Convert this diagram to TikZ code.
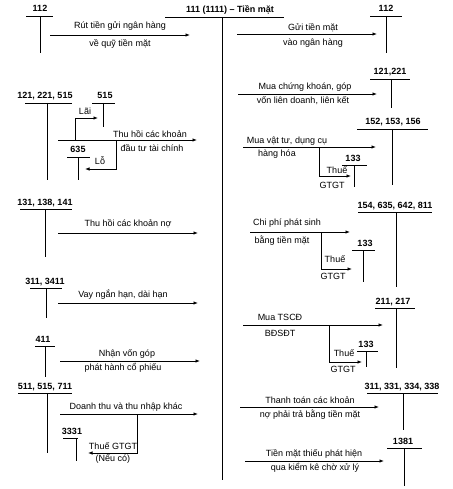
\documentclass[tikz,border=0pt]{standalone}
\usepackage{fontspec}
\setmainfont{Liberation Sans}
\usetikzlibrary{arrows.meta}

\tikzset{
  acct/.style={font=\fontsize{9}{10}\selectfont\bfseries, inner sep=0pt},
  lbl/.style={font=\fontsize{9}{10}\selectfont, inner sep=0pt},
  flow/.style={-{Latex[length=4.5pt,width=3.5pt]}, line width=0.8pt},
  tline/.style={line width=0.8pt}
}

\begin{document}
\begin{tikzpicture}[x=1pt, y=-1pt]
    \useasboundingbox (0,0) rectangle (452,489);
    \foreach \name/\lx/\ly/\xa/\xb/\vx/\vy/\txt in {
        a112/40/16/26/53/40/53/112,
        a111/230/17/165/284/222/480/{111 (1111) -- Tiền mặt},
        b112/386/16/370/402/386/53/112,
        a121/390/79/370/410/391/108/{121,221},
        b121/45/103/25/72/47/180/{121, 221, 515},
        a515/105/103/92/115/103/127/515,
        a635/78/157/67/90/78/180/635,
        a152/393/129/357/428/392/185/{152, 153, 156},
        a133/353/165/342/367/354/187/133,
        a131/45/209/20/72/45/257/{131, 138, 141},
        a154/395/212/358/432/396/287/{154, 635, 642, 811},
        b133/365/250/352/375/363/282/133,
        a311/45/288/30/62/46/318/{311, 3411},
        a411/43/346/35/55/45/377/411,
        a211/393/308/375/415/396/368/{211, 217},
        c133/366/351/357/378/366/367/133,
        a511/45/393/18/72/47/453/{511, 515, 711},
        a3331/72/438/63/78/76/461/3331,
        b311/402/393/367/438/403/430/{311, 331, 334, 338},
        a1381/403/448/387/422/404/486/1381} {
      \node[acct, anchor=base] (t\name) at (\lx,\ly-4) {\txt};
      \draw[tline] (\xa,\ly) -- (\xb,\ly) (\vx,\ly) -- (\vx,\vy);
    }

    \draw[flow] (50,35) coordinate (rut) -- (190,35) coordinate (rutend);
    \node[lbl] (rut1) at (120,26) {Rút tiền gửi ngân hàng};
    \node[lbl] (rut2) at (120,44) {về quỹ tiền mặt};

    \draw[flow] (237,34) coordinate (gui) -- (377,34) coordinate (guiend);
    \node[lbl] (gui1) at (313,28) {Gửi tiền mặt};
    \node[lbl] (gui2) at (313,43) {vào ngân hàng};

    \draw[flow] (238,94) coordinate (ck) -- (377,94) coordinate (ckend);
    \node[lbl] (ck1) at (305,87) {Mua chứng khoán, góp};
    \node[lbl] (ck2) at (303,101) {vốn liên doanh, liên kết};

    \draw[flow] (58,140) coordinate (dt) -- (197,140) coordinate (dtend);
    \node[lbl] (dt1) at (150,134) {Thu hồi các khoản};
    \node[lbl] (dt2) at (152,148) {đầu tư tài chính};
    \draw[flow] (75,140) coordinate (lai) |- (98,118) coordinate (laiend);
    \node[lbl] (lai1) at (85,111) {Lãi};
    \draw[flow] (116,140) coordinate (lo) |- (85,169) coordinate (loend);
    \node[lbl] (lo1) at (100,161) {Lỗ};

    \draw[flow] (243,147) coordinate (vt) -- (376,147) coordinate (vtend);
    \node[lbl] (vt1) at (287,141) {Mua vật tư, dụng cụ};
    \node[lbl] (vt2) at (277,154) {hàng hóa};
    \draw[flow] (319,147) coordinate (vtt) |- (351,176) coordinate (vttend);
    \node[lbl] (vtt1) at (337,170) {Thuế};
    \node[lbl] (vtt2) at (332,185) {GTGT};

    \draw[flow] (58,233) coordinate (no) -- (198,233) coordinate (noend);
    \node[lbl] (no1) at (128,224) {Thu hồi các khoản nợ};

    \draw[flow] (250,232) coordinate (cp) -- (350,232) coordinate (cpend);
    \node[lbl] (cp1) at (287,223) {Chi phí phát sinh};
    \node[lbl] (cp2) at (282,241) {bằng tiền mặt};
    \draw[flow] (321,232) coordinate (cpt) |- (352,269) coordinate (cptend);
    \node[lbl] (cpt1) at (335,259) {Thuế};
    \node[lbl] (cpt2) at (333,276) {GTGT};

    \draw[flow] (58,303) coordinate (vay) -- (198,303) coordinate (vayend);
    \node[lbl] (vay1) at (123,295) {Vay ngắn hạn, dài hạn};

    \draw[flow] (60,361) coordinate (von) -- (200,361) coordinate (vonend);
    \node[lbl] (von1) at (127,354) {Nhận vốn góp};
    \node[lbl] (von2) at (123,368) {phát hành cổ phiếu};

    \draw[flow] (243,325) coordinate (ts) -- (383,325) coordinate (tsend);
    \node[lbl] (ts1) at (280,317) {Mua TSCĐ};
    \node[lbl] (ts2) at (280,333) {BĐSĐT};
    \draw[flow] (329,325) coordinate (tst) |- (362,362) coordinate (tstend);
    \node[lbl] (tst1) at (344,353) {Thuế};
    \node[lbl] (tst2) at (343,369) {GTGT};

    \draw[flow] (60,414) coordinate (dthu) -- (198,414) coordinate (dthuend);
    \node[lbl] (dthu1) at (126,407) {Doanh thu và thu nhập khác};
    \draw[flow] (137,414) coordinate (dtt) |- (88,453) coordinate (dttend);
    \node[lbl] (dtt1) at (113,446) {Thuế GTGT};
    \node[lbl] (dtt2) at (113,459) {(Nếu có)};

    \draw[flow] (240,407) coordinate (tt) -- (379,407) coordinate (ttend);
    \node[lbl] (tt1) at (310,400) {Thanh toán các khoản};
    \node[lbl] (tt2) at (310,415) {nợ phải trả bằng tiền mặt};

    \draw[flow] (245,461) coordinate (kk) -- (384,461) coordinate (kkend);
    \node[lbl] (kk1) at (314,454) {Tiền mặt thiếu phát hiện};
    \node[lbl] (kk2) at (315,468) {qua kiểm kê chờ xử lý};
\end{tikzpicture}
\end{document}
